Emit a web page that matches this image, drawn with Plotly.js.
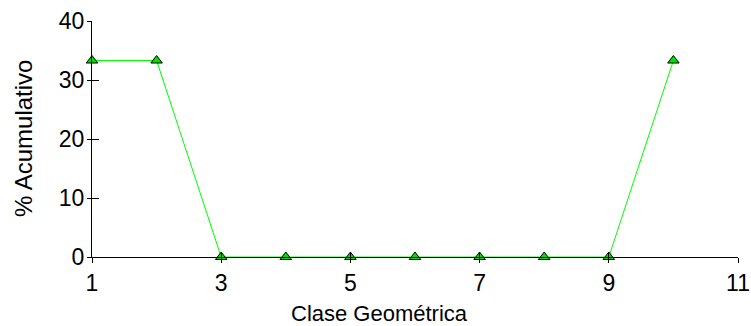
<!DOCTYPE html>
<html>
<head>
<meta charset="utf-8">
<script src="https://cdn.plot.ly/plotly-3.0.1.min.js"></script>
<style>
  html, body { margin: 0; padding: 0; background: #fff; }
  #plot { width: 751px; height: 326px; }
</style>
</head>
<body>
<div id="plot"></div>
<script>
// clases geometricas y % acumulativo
const clases = [1, 2, 3, 4, 5, 6, 7, 8, 9, 10];
const pctAcumulativo = [33.3, 33.3, 0, 0, 0, 0, 0, 0, 0, 33.3];
const xTicks = [1, 3, 5, 7, 9, 11];
const yTicks = [0, 10, 20, 30, 40];
const xTitle = 'Clase Geométrica';
const yTitle = '% Acumulativo';

const fontFamily = 'Liberation Sans, Arial, sans-serif';

const trace = {
  x: clases,
  y: pctAcumulativo,
  type: 'scatter',
  mode: 'lines+markers',
  line: { color: '#00ff00', width: 1 },
  marker: {
    symbol: 'triangle-up',
    size: 10,
    color: '#00e000',
    line: { color: '#000000', width: 1 }
  },
  cliponaxis: false,
  showlegend: false,
  hoverinfo: 'x+y'
};

// second pair of axes only to draw the inner half of the crossing ticks
const ghost = {
  x: [1], y: [0], xaxis: 'x2', yaxis: 'y2',
  type: 'scatter', mode: 'markers',
  marker: { opacity: 0 }, showlegend: false, hoverinfo: 'skip'
};

const layout = {
  width: 751,
  height: 326,
  margin: { l: 92, r: 13, t: 21, b: 69 },
  paper_bgcolor: '#ffffff',
  plot_bgcolor: '#ffffff',
  font: { family: fontFamily, size: 23, color: '#000000' },
  xaxis: {
    range: [1, 11],
    tickvals: xTicks,
    ticktext: xTicks.map(String),
    ticks: 'outside',
    ticklen: 5,
    tickcolor: '#000',
    tickfont: { size: 23 },
    showgrid: false,
    zeroline: false,
    showline: true,
    linecolor: '#000',
    linewidth: 1
  },
  yaxis: {
    range: [0, 40],
    tickvals: yTicks,
    ticktext: yTicks.map(String),
    ticks: 'outside',
    ticklen: 4,
    tickcolor: '#000',
    tickfont: { size: 23 },
    ticklabelstandoff: -2,
    showgrid: false,
    zeroline: false,
    showline: true,
    linecolor: '#000',
    linewidth: 1
  },
  xaxis2: {
    overlaying: 'x', anchor: 'y2', range: [1, 11],
    tickvals: xTicks, ticks: 'inside', ticklen: 5, tickcolor: '#000',
    showticklabels: false, showgrid: false, zeroline: false, showline: false
  },
  yaxis2: {
    overlaying: 'y', anchor: 'x2', range: [0, 40],
    tickvals: yTicks, ticks: 'inside', ticklen: 7, tickcolor: '#000',
    showticklabels: false, showgrid: false, zeroline: false, showline: false
  },
  annotations: [
    {
      text: xTitle, xref: 'paper', yref: 'paper',
      x: 0.4458, y: 0, xanchor: 'center', yanchor: 'middle',
      yshift: -56, showarrow: false, font: { size: 22 }
    },
    {
      text: yTitle, xref: 'paper', yref: 'paper',
      x: 0, y: 0.5, xanchor: 'center', yanchor: 'middle',
      xshift: -69, textangle: -90, showarrow: false, font: { size: 24 }
    }
  ]
};

Plotly.newPlot('plot', [ghost, trace], layout, { displayModeBar: false, staticPlot: true });
</script>
</body>
</html>
